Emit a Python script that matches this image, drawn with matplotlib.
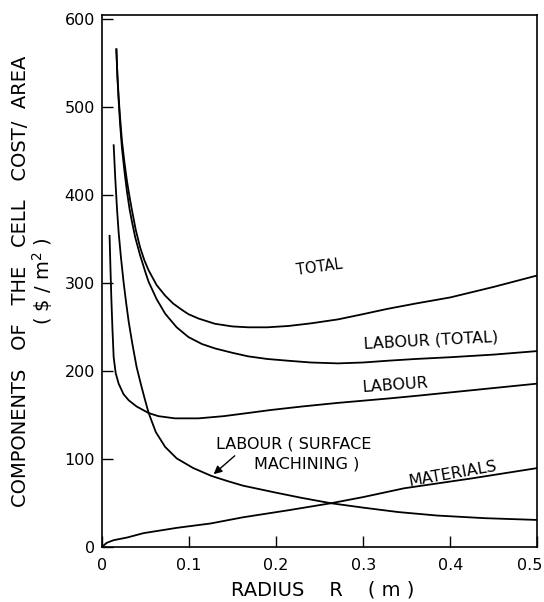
import numpy as np
import matplotlib
matplotlib.use('Agg')
import matplotlib.pyplot as plt
from matplotlib.transforms import ScaledTranslation

plt.rcParams['font.family'] = ['DejaVu Sans']

# curves (radius in m, cost in $/m^2)
total_r = [0.0168, 0.018, 0.0194, 0.021, 0.0232, 0.026, 0.029, 0.032, 0.0347, 0.039,
           0.044, 0.049, 0.0537, 0.063, 0.0728, 0.082, 0.0918, 0.0994, 0.111, 0.13,
           0.15, 0.168, 0.19, 0.214, 0.24, 0.271, 0.30, 0.328, 0.36, 0.40,
           0.45, 0.50]
total_c = [566, 536, 512, 489, 462, 438, 416, 398, 383, 361,
           341, 326, 315, 298, 286, 277, 270, 265, 260, 254,
           251, 250, 250, 251.5, 254.5, 259, 265, 271, 277, 284,
           296, 309]

labtot_r = [0.0168, 0.018, 0.0194, 0.021, 0.0232, 0.026, 0.029, 0.032, 0.0347, 0.0385,
            0.044, 0.05, 0.0537, 0.063, 0.0728, 0.086, 0.0994, 0.115, 0.13, 0.15,
            0.168, 0.19, 0.214, 0.24, 0.271, 0.30, 0.328, 0.36, 0.40, 0.45,
            0.50]
labtot_c = [566, 535, 508, 482, 454, 428, 404, 384, 370, 352,
            332, 313, 302, 282, 265.5, 250, 239, 231, 226, 221,
            217, 214, 212, 210, 209, 210, 212, 214, 216, 219,
            223]

labour_r = [0.009, 0.010, 0.011, 0.0123, 0.0137, 0.016, 0.0194, 0.025, 0.031, 0.040,
            0.0537, 0.065, 0.084, 0.111, 0.14, 0.168, 0.194, 0.23, 0.27, 0.328,
            0.36, 0.40, 0.45, 0.50]
labour_c = [354, 318, 284, 248, 216, 198, 186, 174, 167, 160,
            152.6, 149, 146.5, 146.5, 149, 152.6, 156, 160, 164, 169,
            172, 176, 181, 186]

surf_r = [0.0137, 0.0155, 0.0175, 0.0194, 0.022, 0.025, 0.028, 0.031, 0.035, 0.040,
          0.045, 0.049, 0.0537, 0.062, 0.0728, 0.086, 0.105, 0.126, 0.145, 0.162,
          0.20, 0.23, 0.263, 0.30, 0.34, 0.385, 0.44, 0.50]
surf_c = [457, 420, 385, 358, 330, 302, 278, 256, 232, 205,
          185, 170, 153, 131, 114, 101, 90, 81, 75, 70,
          62, 56, 50, 45, 40, 36, 33, 31]

mat_r = [0, 0.0057, 0.0137, 0.029, 0.048, 0.086, 0.125, 0.162, 0.214, 0.263,
         0.30, 0.347, 0.423, 0.50]
mat_c = [0, 5, 8, 11, 16, 22, 27, 34, 42, 50,
         57, 67, 78, 90]

x_ticks = [0, 0.1, 0.2, 0.3, 0.4, 0.5]
x_ticklabels = ['0', '0.1', '0.2', '0.3', '0.4', '0.5']
y_ticks = [0, 100, 200, 300, 400, 500, 600]

fig = plt.figure(figsize=(5.44, 6.02), dpi=100)
ax = fig.add_axes([0.187, 0.091, 0.801, 0.884])

lw = 1.3
for r, c in [(total_r, total_c), (labtot_r, labtot_c), (labour_r, labour_c),
             (surf_r, surf_c), (mat_r, mat_c)]:
    ax.plot(r, c, color='black', lw=lw, solid_joinstyle='round')

ax.set_xlim(0, 0.5)
ax.set_ylim(0, 605)
ax.set_xticks(x_ticks)
ax.set_xticklabels(x_ticklabels)
ax.set_yticks(y_ticks)
ax.tick_params(direction='in', length=8, width=1, labelsize=11.5)
ax.tick_params(axis='x', pad=8)
ax.tick_params(axis='y', pad=5)
for s in ax.spines.values():
    s.set_linewidth(1.2)
# last x label sits against the right edge of the picture
last = ax.get_xticklabels()[-1]
last.set_transform(last.get_transform() + ScaledTranslation(-8 / 100, 0, fig.dpi_scale_trans))

# curve labels
tkw = dict(fontsize=11.5, color='black', ha='center', va='center')
ax.text(0.25, 318, 'TOTAL', rotation=8, fontsize=10.5, color='black', ha='center', va='center')
ax.text(0.378, 235, 'LABOUR (TOTAL)', rotation=3, **tkw)
ax.text(0.337, 184, 'LABOUR', rotation=4, **tkw)
ax.text(0.220, 117, 'LABOUR ( SURFACE', **tkw)
ax.text(0.235, 95, 'MACHINING )', **tkw)
ax.text(0.403, 83, 'MATERIALS', rotation=10, **tkw)
ax.annotate('', xy=(0.126, 81), xytext=(0.155, 106),
            arrowprops=dict(arrowstyle='-|>', color='black', lw=1,
                            mutation_scale=12))

fig.text(0.037, 0.533, 'COMPONENTS   OF   THE   CELL   COST/  AREA', rotation=90,
         ha='center', va='center', fontsize=14)
fig.text(0.078, 0.533, r'( \$ / m$^2$ )', rotation=90,
         ha='center', va='center', fontsize=14)
fig.text(0.594, 0.02, 'RADIUS    R    ( m )', ha='center', va='center', fontsize=14)

fig.savefig('out.png', dpi=100)
